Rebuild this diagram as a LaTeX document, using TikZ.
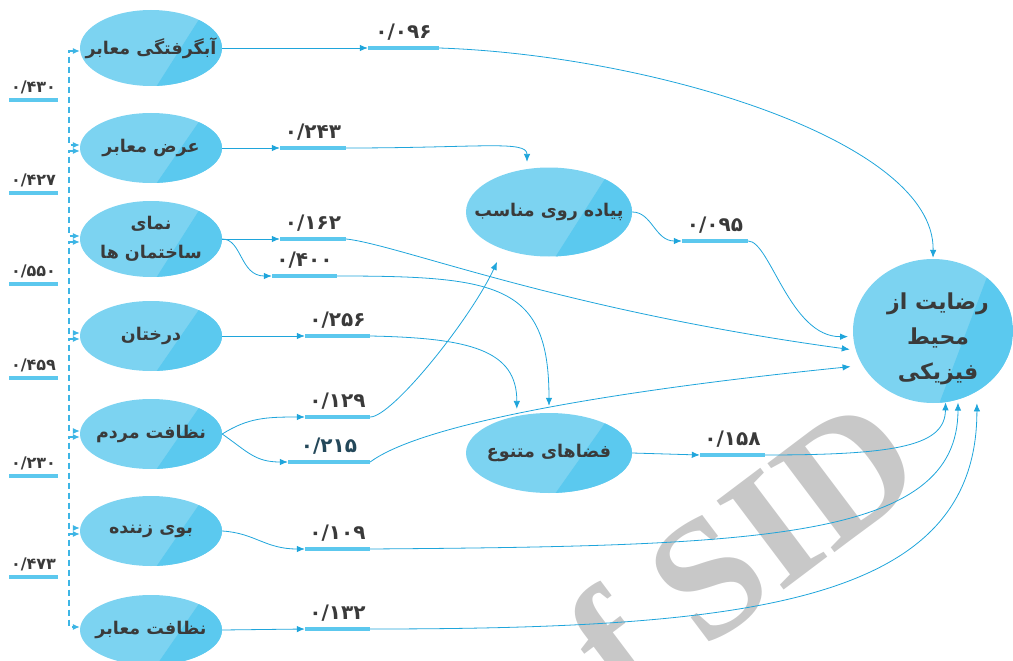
\documentclass[tikz,border=0pt]{standalone}
\usepackage{fontspec}
\usetikzlibrary{arrows.meta,shapes.geometric,calc}
\TeXXeTstate=1
\newfontfamily\fa[Script=Arabic]{DejaVu Sans}
\newfontfamily\wmfont{Liberation Serif}
\definecolor{lineB}{HTML}{1FA5DB}
\definecolor{barB}{HTML}{5CC8EE}
\definecolor{ellL}{HTML}{7CD3F1}
\definecolor{ellD}{HTML}{5BC9EF}
\definecolor{txt}{HTML}{3A3A3A}
\definecolor{txtT}{HTML}{24485A}
\definecolor{wm}{HTML}{C8C8C8}
\definecolor{covB}{HTML}{3DB5E5}
\tikzset{
  ell/.style={ellipse, fill=ellL, inner sep=0pt, minimum width=142pt, minimum height=70pt,
    path picture={\fill[ellD] ($(path picture bounding box.south west)!0.54!(path picture bounding box.south east)$) --
      ($(path picture bounding box.north west)!0.88!(path picture bounding box.north east)$) --
      (path picture bounding box.north east) -- (path picture bounding box.south east) -- cycle;}},
  elltxt/.style={text=txt, align=center, inner sep=0pt, font=\fa\bfseries\fontsize{17.5}{29}\selectfont},
  bar/.style={rectangle, fill=barB, inner sep=0pt, minimum height=4pt},
  num/.style={text=txt, inner sep=0pt, anchor=south, font=\fa\bfseries\fontsize{20}{20}\selectfont},
  conn/.style={draw=lineB, line width=0.8pt},
  arr/.style={conn, -{Latex[length=8pt,width=6.5pt]}},
  cov/.style={draw=covB, line width=1.1pt, dash pattern=on 6pt off 4pt,
    {Latex[length=7pt,width=6pt]}-{Latex[length=7pt,width=6pt]}},
}
\begin{document}
\begin{tikzpicture}[x=1pt,y=-1pt]
\useasboundingbox (0,0) rectangle (1013,661);
% watermark
\begin{scope}
\clip (0,0) rectangle (1013,661);
\node[text=wm, font=\wmfont\bfseries\fontsize{170}{170}\selectfont, rotate=37, anchor=base east, inner sep=0pt] (wmk) at (931,480) {of SID};
\end{scope}
% ellipses
\node[ell, minimum height=76pt] (e1) at (151,48) {};
\node[ell] (e2) at (151,148) {};
\node[ell, minimum height=76pt] (e3) at (151,239) {};
\node[ell] (e4) at (151,336) {};
\node[ell] (e5) at (151,434) {};
\node[ell] (e6) at (151,531) {};
\node[ell] (e7) at (151,630) {};
\node[ell, minimum width=166pt, minimum height=89pt] (P) at (549,212) {};
\node[ell, minimum width=166pt, minimum height=80pt] (M) at (549,453) {};
\node[ell, minimum width=160pt, minimum height=144pt] (F) at (933,331) {};
\node[elltxt] (t1) at (e1) {\beginR آبگرفتگی معابر\endR};
\node[elltxt] (t2) at (e2) {\beginR عرض معابر\endR};
\node[elltxt] (t3) at (e3) {\beginR نمای\endR\\\beginR ساختمان ها\endR};
\node[elltxt] (t4) at (e4) {\beginR درختان\endR};
\node[elltxt] (t5) at (e5) {\beginR نظافت مردم\endR};
\node[elltxt] (t6) at (e6) {\beginR بوی زننده\endR};
\node[elltxt] (t7) at (e7) {\beginR نظافت معابر\endR};
\node[elltxt] (tP) at (P) {\beginR پیاده روی مناسب\endR};
\node[elltxt] (tM) at (M) {\beginR فضاهای متنوع\endR};
\node[elltxt, font=\fa\bfseries\fontsize{22}{35}\selectfont] (tF) at ([xshift=5pt,yshift=-8pt]F.center) {\beginR رضایت از\endR\\\beginR محیط\endR\\\beginR فیزیکی\endR};
% covariances
\coordinate (cx) at (69,0);
\foreach \a/\b in {e1/e2,e2/e3,e3/e4,e4/e5,e5/e6,e6/e7}
  \draw[cov] ([yshift=-3pt]\a.west) -- ([yshift=-3pt]\a.west -| cx) -- ([yshift=3pt]\b.west -| cx) -- ([yshift=3pt]\b.west);
\foreach \i/\y/\t in {1/100/{۰/۴۳۰},2/193/{۰/۴۲۷},3/284/{۰/۵۵۰},4/378/{۰/۴۵۹},5/476/{۰/۲۳۰},6/577/{۰/۴۷۳}}{
  \node[bar, minimum width=49pt] (c\i) at (33.5,\y) {};
  \node[num, font=\fa\bfseries\fontsize{16}{16}\selectfont] (lc\i) at ([yshift=4pt]c\i.north) {\t};
}
% bars
\node[bar, minimum width=71pt] (b096) at (403.5,48) {};
\node[bar, minimum width=66pt] (b243) at (313,148) {};
\node[bar, minimum width=66pt] (b162) at (313,239) {};
\node[bar, minimum width=65pt] (b400) at (304.5,276) {};
\node[bar, minimum width=65pt] (b256) at (337.5,336) {};
\node[bar, minimum width=65pt] (b129) at (337.5,417) {};
\node[bar, minimum width=82pt] (b215) at (329,462) {};
\node[bar, minimum width=65pt] (b109) at (337.5,549) {};
\node[bar, minimum width=65pt] (b132) at (337.5,629) {};
\node[bar, minimum width=66pt] (b095) at (715,241) {};
\node[bar, minimum width=65pt] (b158) at (732.5,455) {};
\node[num] (n096) at ([yshift=5pt]b096.north) {۰/۰۹۶};
\node[num] (n243) at ([yshift=5pt]b243.north) {۰/۲۴۳};
\node[num] (n162) at ([yshift=5pt]b162.north) {۰/۱۶۲};
\node[num] (n400) at ([yshift=5pt]b400.north) {۰/۴۰۰};
\node[num] (n256) at ([yshift=5pt]b256.north) {۰/۲۵۶};
\node[num] (n129) at ([yshift=5pt]b129.north) {۰/۱۲۹};
\node[num, text=txtT] (n215) at ([yshift=5pt]b215.north) {۰/۲۱۵};
\node[num] (n109) at ([yshift=5pt]b109.north) {۰/۱۰۹};
\node[num] (n132) at ([yshift=5pt]b132.north) {۰/۱۳۲};
\node[num] (n095) at ([yshift=5pt]b095.north) {۰/۰۹۵};
\node[num] (n158) at ([yshift=5pt]b158.north) {۰/۱۵۸};
% first halves
\draw[arr] (e1.east) -- (b096.west);
\draw[arr] (e2.east) -- (b243.west);
\draw[arr] (e3.east) -- (b162.west);
\draw[arr] (e3.east) .. controls (242,239) and (240,276) .. (b400.west);
\draw[arr] (e4.east) -- (b256.west);
\draw[arr] (e5.east) .. controls (248,418) and (265,417) .. (b129.west);
\draw[arr] (e5.east) .. controls (248,452) and (255,462) .. (b215.west);
\draw[arr] (e6.east) .. controls (255,533) and (265,549) .. (b109.west);
\draw[arr] (e7.east) -- (b132.west);
\draw[arr] (P.east) .. controls (652,212) and (655,241) .. (b095.west);
\draw[arr] (M.east) -- (b158.west);
% second halves
\draw[arr, shorten >=1pt] (b096.east) .. controls (650,55) and (935,140) .. (F.north);
\draw[arr, shorten >=7pt] (b243.east) .. controls (480,148) and (527,140) .. (P.117);
\draw[arr, shorten >=6pt] (b162.east) .. controls (400,245) and (560,310) .. (F.194);
\draw[arr, shorten >=7pt] (b400.east) .. controls (500,276) and (549,285) .. (M.north);
\draw[arr, shorten >=7pt] (b256.east) .. controls (470,338) and (517,350) .. (M.131);
\draw[arr, shorten >=14pt] (b129.east) .. controls (392,417) and (470,320) .. (P.219);
\draw[arr, shorten >=12pt] (b215.east) .. controls (420,425) and (600,392) .. (F.206);
\draw[arr, shorten >=5pt] (b095.east) .. controls (770,241) and (790,337) .. (F.184);
\draw[arr] (b158.east) .. controls (900,455) and (945,445) .. (F.-80);
\draw[arr, shorten >=3pt] (b109.east) .. controls (760,546) and (958,540) .. (F.-70);
\draw[arr, shorten >=12pt] (b132.east) .. controls (760,629) and (977,600) .. (F.-54);
\end{tikzpicture}
\end{document}
